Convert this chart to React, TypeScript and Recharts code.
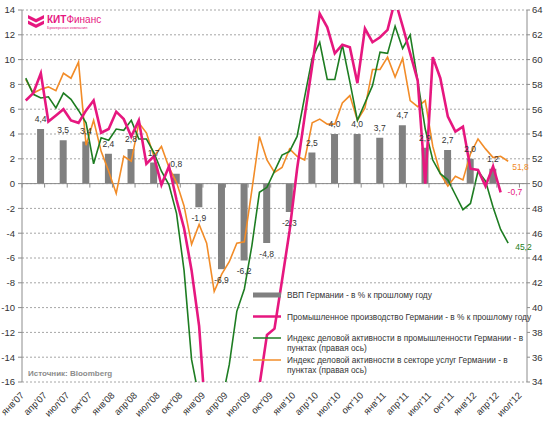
import React from 'react';
import {
  ComposedChart,
  Bar,
  Line,
  XAxis,
  YAxis,
  CartesianGrid,
  ReferenceLine,
  ReferenceArea,
  LabelList,
} from 'recharts';

// monthly categories, Jan 2007 - Jul 2012
const months = [
  "янв'07", "фев'07", "мар'07", "апр'07", "май'07", "июн'07", "июл'07", "авг'07", "сен'07", "окт'07", "ноя'07", "дек'07",
  "янв'08", "фев'08", "мар'08", "апр'08", "май'08", "июн'08", "июл'08", "авг'08", "сен'08", "окт'08", "ноя'08", "дек'08",
  "янв'09", "фев'09", "мар'09", "апр'09", "май'09", "июн'09", "июл'09", "авг'09", "сен'09", "окт'09", "ноя'09", "дек'09",
  "янв'10", "фев'10", "мар'10", "апр'10", "май'10", "июн'10", "июл'10", "авг'10", "сен'10", "окт'10", "ноя'10", "дек'10",
  "янв'11", "фев'11", "мар'11", "апр'11", "май'11", "июн'11", "июл'11", "авг'11", "сен'11", "окт'11", "ноя'11", "дек'11",
  "янв'12", "фев'12", "мар'12", "апр'12", "май'12", "июн'12", "июл'12",
];

const tickMonths = [
  "янв'07", "апр'07", "июл'07", "окт'07", "янв'08", "апр'08", "июл'08", "окт'08",
  "янв'09", "апр'09", "июл'09", "окт'09", "янв'10", "апр'10", "июл'10", "окт'10",
  "янв'11", "апр'11", "июл'11", "окт'11", "янв'12", "апр'12", "июл'12",
];

// GDP, % y/y, quarterly (placed on the last month of the quarter)
const gdpQuarters = [
  "мар'07", "июн'07", "сен'07", "дек'07", "мар'08", "июн'08", "сен'08", "дек'08",
  "мар'09", "июн'09", "сен'09", "дек'09", "мар'10", "июн'10", "сен'10", "дек'10",
  "мар'11", "июн'11", "сен'11", "дек'11", "мар'12",
];
const gdp = [4.4, 3.5, 3.4, 2.4, 2.8, 1.7, 0.8, -1.9, -6.9, -6.2, -4.8, -2.3, 2.5, 4.0, 4.0, 3.7, 4.7, 2.9, 2.7, 2.0, 1.2];

// industrial production, % y/y (left axis)
const industrial = [
  6.7, 7.3, 8.9, 5.0, 5.5, 6.0, 5.1, 4.9, 5.9, 6.7, 4.1, 4.4,
  5.8, 5.2, 3.8, 5.1, 1.6, 2.2, -0.1, 1.4, -1.3, -3.6, -7.0, -11.5,
  -20.0, -22.0, -21.5, -22.5, -19.0, -18.0, -18.0, -16.3, -12.2, -11.7, -7.8, -3.8,
  1.2, 5.4, 9.5, 13.7, 12.6, 10.5, 11.2, 11.0, 8.1, 12.5, 11.4, 11.8,
  12.4, 14.8, 12.7, 10.5, 8.3, 0.0, 10.2, 8.5, 5.4, 4.2, 4.6, 1.2,
  1.1, -0.2, 1.4, -0.7,
];

// PMI manufacturing, points (right axis)
const pmiManufacturing = [
  58.5, 57.2, 56.9, 57.0, 56.1, 57.3, 56.8, 55.9, 54.9, 51.6, 53.7, 53.5,
  54.4, 54.3, 55.1, 53.6, 53.6, 52.5, 51.0, 49.9, 47.6, 43.0, 35.8, 32.7,
  32.0, 32.1, 32.4, 35.4, 39.7, 41.5, 45.0, 49.3, 49.7, 51.0, 52.3, 52.6,
  53.8, 57.0, 60.1, 61.4, 58.4, 58.4, 61.2, 58.2, 55.1, 56.5, 57.9, 60.6,
  60.5, 62.7, 60.9, 62.0, 58.3, 54.4, 51.9, 50.8, 50.3, 49.1, 47.9, 48.4,
  51.0, 50.2, 48.1, 46.3, 45.2,
];

// PMI services, points (right axis)
const pmiServices = [
  58.4, 57.3, 57.6, 57.8, 57.5, 58.9, 58.5, 59.8, 53.1, 55.1, 52.6, 51.0,
  49.2, 52.2, 51.8, 54.9, 54.1, 52.2, 53.0, 51.3, 50.1, 48.2, 45.1, 46.7,
  45.2, 41.3, 42.7, 43.7, 45.2, 45.3, 49.5, 53.8, 51.9, 50.9, 51.3, 52.8,
  52.2, 51.9, 54.9, 55.2, 54.8, 54.8, 56.5, 57.1, 55.1, 56.1, 59.2, 59.2,
  60.2, 58.6, 60.1, 56.7, 56.2, 56.7, 53.0, 50.8, 49.8, 50.6, 50.3, 52.4,
  53.6, 52.8, 52.1, 52.2, 51.8,
];

const leftTicks = [-16, -14, -12, -10, -8, -6, -4, -2, 0, 2, 4, 6, 8, 10, 12, 14];
const rightTicks = [34, 36, 38, 40, 42, 44, 46, 48, 50, 52, 54, 56, 58, 60, 62, 64];

const legendItems = [
  { kind: 'bar', color: '#808080', lines: ['ВВП Германии - в % к прошлому году'] },
  { kind: 'line', color: '#E6177F', lines: ['Промышленное производство Германии - в % к прошлому году'] },
  { kind: 'line', color: '#1E7D22', lines: ['Индекс деловой активности в промышленности Германии - в', 'пунктах (правая ось)'] },
  { kind: 'line', color: '#F28C28', lines: ['Индекс деловой активности в секторе услуг Германии - в', 'пунктах (правая ось)'] },
];

const W = 550;
const H = 422;
const TOP = 10;
const X_AXIS_H = 40;
const LEFT_W = 22;
const RIGHT_W = 23;
const PLOT_BOTTOM = H - X_AXIS_H;
const PLOT_H = PLOT_BOTTOM - TOP;
const BAND = (W - LEFT_W - RIGHT_W) / months.length;
const ZERO_Y = TOP + (PLOT_H * 14) / 30;

const FONT = '"Liberation Sans", Arial, sans-serif';
const PINK = '#E6177F';
const GREEN = '#1E7D22';
const ORANGE = '#F28C28';

const data = months.map((m, i) => {
  const q = gdpQuarters.indexOf(m);
  return {
    month: m,
    gdp: q >= 0 ? gdp[q] : null,
    ip: i < industrial.length ? industrial[i] : null,
    pmiM: i < pmiManufacturing.length ? pmiManufacturing[i] : null,
    pmiS: i < pmiServices.length ? pmiServices[i] : null,
  };
});

const fmt = (v: number) => v.toFixed(1).replace('.', ',');

const MonthTick = (props: any) => {
  const { x, payload } = props;
  if (!tickMonths.includes(payload.value)) return <g />;
  const left = x - BAND / 2;
  const ax = x - 1;
  const ay = PLOT_BOTTOM + 14;
  return (
    <g>
      <line x1={left} x2={left} y1={ZERO_Y} y2={ZERO_Y + 4} stroke="#8c8c8c" />
      <text
        x={ax}
        y={ay}
        textAnchor="end"
        transform={`rotate(-45 ${ax} ${ay})`}
        fontSize={9.5}
        fontFamily={FONT}
        fill="#333"
      >
        {payload.value}
      </text>
    </g>
  );
};

const GdpLabel = (props: any) => {
  const { x, y, width, height, value } = props;
  if (value === null || value === undefined) return null;
  const top = Math.min(y, y + height);
  const bottom = Math.max(y, y + height);
  const ty = value >= 0 ? top - 7 : bottom + 14;
  return (
    <text x={x + width / 2} y={ty} textAnchor="middle" fontSize={8.5} fontFamily={FONT} fill="#333">
      {fmt(value)}
    </text>
  );
};

const endLabel = (lastIndex: number, color: string, dx: number, dy: number) => (props: any) => {
  const { x, y, index, value } = props;
  if (index !== lastIndex || value === null || value === undefined) return null;
  return (
    <text x={x + dx} y={y + dy} fontSize={8.5} fontFamily={FONT} fill={color}>
      {fmt(value)}
    </text>
  );
};

const Overlay = () => (
  <svg width={W} height={H} style={{ position: 'absolute', left: 0, top: 0, pointerEvents: 'none' }}>
    {/* logo */}
    <path d="M28,15 L36,19 L44,15 L44,18.5 L36,22.5 L28,18.5 Z" fill={PINK} />
    <path d="M28,20.5 L36,24.5 L44,20.5 L44,24 L36,28 L28,24 Z" fill={PINK} />
    <text x={47} y={23} fontSize={10} fontFamily={FONT} fill={PINK}>
      <tspan fontWeight="bold">КИТ</tspan>Финанс
    </text>
    <text x={47} y={29} fontSize={4} fontFamily={FONT} fill={PINK}>
      Брокерская компания
    </text>
    {/* source */}
    <text x={28} y={376} fontSize={8} fontWeight="bold" fontFamily={FONT} fill="#8c8c8c">
      Источник: Bloomberg
    </text>
    {/* legend */}
    {legendItems.map((item, k) => {
      const rowY = [295, 316.5, 338, 360][k];
      return (
        <g key={k}>
          {item.kind === 'bar' ? (
            <rect x={253} y={rowY - 2.5} width={28} height={5} fill={item.color} />
          ) : (
            <line x1={253} x2={281} y1={rowY} y2={rowY} stroke={item.color} strokeWidth={k === 1 ? 2.5 : 1.5} />
          )}
          {item.lines.map((t, j) => (
            <text key={j} x={287} y={rowY + 3 + j * 10} fontSize={8.3} fontFamily={FONT} fill="#333">
              {t}
            </text>
          ))}
        </g>
      );
    })}
  </svg>
);

export default function App() {
  return (
    <div style={{ position: 'absolute', left: 0, top: 0, width: W, height: H, background: '#fff' }}>
      <ComposedChart width={W} height={H} data={data} margin={{ top: TOP, right: 0, bottom: 0, left: 0 }}>
        <CartesianGrid vertical={false} stroke="#a6a6a6" strokeDasharray="2 2" />
        <ReferenceArea
          x1="июл'09"
          x2="июл'12"
          y1={-15.7}
          y2={-8.3}
          fill="#fff"
          fillOpacity={1}
          stroke="none"
          ifOverflow="hidden"
        />
        <XAxis
          dataKey="month"
          interval={0}
          height={X_AXIS_H}
          axisLine={false}
          tickLine={false}
          tick={<MonthTick />}
        />
        <YAxis
          width={LEFT_W}
          domain={[-16, 14]}
          ticks={leftTicks}
          allowDataOverflow
          tickSize={4}
          tickMargin={3}
          stroke="#8c8c8c"
          tick={{ fontSize: 9.5, fill: '#333', fontFamily: FONT }}
        />
        <YAxis
          yAxisId="right"
          orientation="right"
          width={RIGHT_W}
          domain={[34, 64]}
          ticks={rightTicks}
          allowDataOverflow
          tickSize={3}
          tickMargin={2}
          stroke="#8c8c8c"
          tick={{ fontSize: 9.5, fill: '#333', fontFamily: FONT, textAnchor: 'start' }}
        />
        <ReferenceLine y={0} stroke="#8c8c8c" />
        <Bar dataKey="gdp" fill="#808080" barSize={7} isAnimationActive={false}>
          <LabelList dataKey="gdp" content={<GdpLabel />} />
        </Bar>
        <Line
          dataKey="pmiS"
          yAxisId="right"
          stroke={ORANGE}
          strokeWidth={1.6}
          dot={false}
          isAnimationActive={false}
        >
          <LabelList dataKey="pmiS" content={endLabel(pmiServices.length - 1, ORANGE, 4, 9)} />
        </Line>
        <Line
          dataKey="pmiM"
          yAxisId="right"
          stroke={GREEN}
          strokeWidth={1.6}
          dot={false}
          isAnimationActive={false}
        >
          <LabelList dataKey="pmiM" content={endLabel(pmiManufacturing.length - 1, GREEN, 7, 7)} />
        </Line>
        <Line dataKey="ip" stroke={PINK} strokeWidth={2.6} dot={false} isAnimationActive={false}>
          <LabelList dataKey="ip" content={endLabel(industrial.length - 1, PINK, 7, 3)} />
        </Line>
      </ComposedChart>
      <Overlay />
    </div>
  );
}
